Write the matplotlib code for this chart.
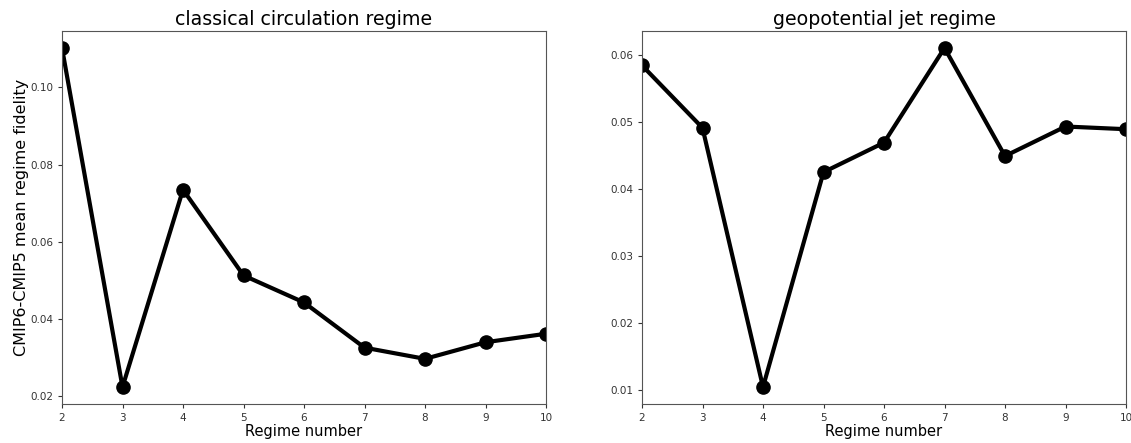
import matplotlib
matplotlib.use("Agg")
import matplotlib.pyplot as plt

regimes = [2, 3, 4, 5, 6, 7, 8, 9, 10]
classical_fidelity = [0.1102, 0.0224, 0.0735, 0.0513, 0.0443, 0.0326, 0.0297, 0.0340, 0.0362]
jet_fidelity = [0.0584, 0.0491, 0.0105, 0.0425, 0.0469, 0.0610, 0.0449, 0.0493, 0.0489]

titles = ["classical circulation regime", "geopotential jet regime"]

fig = plt.figure(figsize=(11.31, 4.43), dpi=100)
ax1 = fig.add_axes([62 / 1131, 39 / 443, 484 / 1131, 373 / 443])
ax2 = fig.add_axes([642 / 1131, 39 / 443, 484 / 1131, 373 / 443])

for ax, vals, title in zip([ax1, ax2], [classical_fidelity, jet_fidelity], titles):
    ax.plot(regimes, vals, color="black", lw=3, marker="o", ms=9.5,
            solid_joinstyle="round")
    ax.set_xlim(2, 10)
    ax.set_xticks(regimes)
    ax.set_title(title, fontsize=13.7, pad=4)
    ax.set_xlabel("Regime number", fontsize=10.5, labelpad=1)
    ax.tick_params(labelsize=7.5, colors="#333333", length=3)
    for sp in ax.spines.values():
        sp.set_color("#555555")

ax1.set_ylabel("CMIP6-CMIP5 mean regime fidelity", fontsize=11.5, labelpad=1)
ax1.set_yticks([0.02, 0.04, 0.06, 0.08, 0.10])
ax1.set_yticklabels(["0.02", "0.04", "0.06", "0.08", "0.10"])
ax2.set_yticks([0.01, 0.02, 0.03, 0.04, 0.05, 0.06])
ax2.set_yticklabels(["0.01", "0.02", "0.03", "0.04", "0.05", "0.06"])

plt.savefig("out.png", dpi=100)
